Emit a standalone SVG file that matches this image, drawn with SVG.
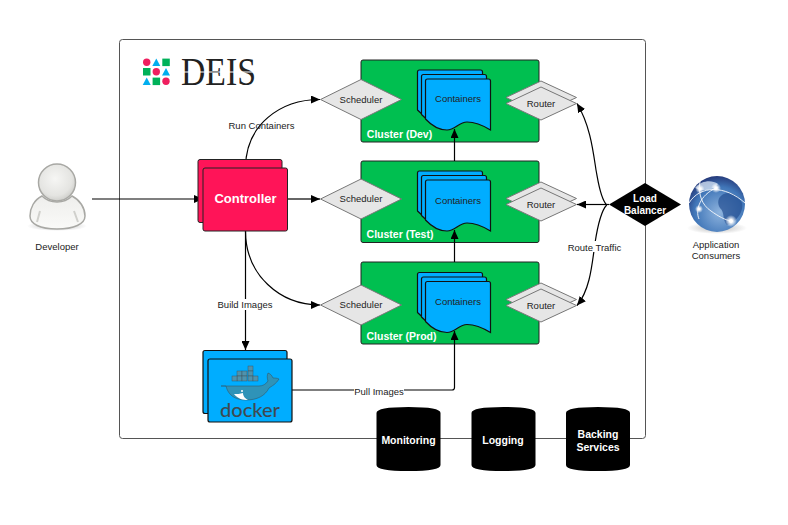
<svg xmlns="http://www.w3.org/2000/svg" width="788" height="525" viewBox="0 0 788 525">
<style>
text{font-family:"Liberation Sans",Arial,sans-serif;text-anchor:middle;fill:#222;font-size:9.5px}
.w{fill:#fff;font-weight:bold;font-size:10.5px}
.c{fill:#00bf50;stroke:#222;stroke-width:1}
.b{fill:#00adff;stroke:#111;stroke-width:1.2}
.p{fill:#ff1458;stroke:#222;stroke-width:1}
.g{fill:#e6e6e6;stroke:#777;stroke-width:1}
.l{fill:none;stroke:#000;stroke-width:1.2}
.k{fill:#000}
.dp{fill:#ef1f5f}.db{fill:#00aeef}.dg{fill:#00b159}
.box{fill:#4f93ad;stroke:#3a4d54;stroke-width:.4}
</style>
<defs>
<marker id="a" markerWidth="10" markerHeight="8" refX="9" refY="4" orient="auto" markerUnits="userSpaceOnUse"><path d="M0 0L9 4L0 8z" fill="#000"/></marker>
<path id="doc" d="M425.5 119C432 126 440 130 447 130C455 130 459 122 467 122C476 122 484 126 490.5 130V81Q490.5 79 488.5 79H427.5Q425.5 79 425.5 81Z"/>
<path id="sch" d="M320.5 0L361 -20L401.5 0L361 20Z"/>
<path id="rt" d="M506 0L541 -16.5L576.5 0L541 16.5Z"/>
<path id="cyl" d="M0 6Q0 0 32 0Q64 0 64 6V58Q64 64 32 64Q0 64 0 58Z"/>
<radialGradient id="gh" cx=".45" cy=".4" r=".65"><stop offset="0" stop-color="#f6f6f4"/><stop offset=".7" stop-color="#e4e4e1"/><stop offset="1" stop-color="#c8c8c4"/></radialGradient>
<linearGradient id="gb" x1="0" y1="0" x2="0" y2="1"><stop offset="0" stop-color="#eeeeec"/><stop offset="1" stop-color="#fafaf8"/></linearGradient>
<radialGradient id="gl" cx=".55" cy=".65" r=".7"><stop offset="0" stop-color="#8fb4de"/><stop offset=".65" stop-color="#4076b8"/><stop offset="1" stop-color="#1f2c6c"/></radialGradient>
<radialGradient id="gs" cx=".5" cy=".5" r=".5"><stop offset="0" stop-color="#888" stop-opacity=".6"/><stop offset="1" stop-color="#888" stop-opacity="0"/></radialGradient>
<radialGradient id="gg" cx=".5" cy=".5" r=".5"><stop offset=".25" stop-color="#fff"/><stop offset="1" stop-color="#fff" stop-opacity="0"/></radialGradient>
</defs>
<rect id="frame" x="119.5" y="39.5" width="526" height="399" rx="3" fill="#fff" stroke="#555" stroke-width="1"/>
<g id="logo">
<circle class="dp" cx="146.7" cy="62.3" r="3.7"/><path class="db" d="M156.3 58.5L160.3 66H152.3Z"/><rect class="dg" x="162.3" y="58.6" width="7.5" height="7.5"/>
<rect class="dg" x="143" y="68" width="7.5" height="7.5"/><circle class="dp" cx="156.3" cy="71.7" r="3.7"/><path class="db" d="M166 68L170 75.5H162Z"/>
<path class="db" d="M146.7 77.5L150.7 85H142.7Z"/><rect class="dg" x="152.6" y="77.6" width="7.5" height="7.5"/><circle class="dp" cx="166" cy="81.3" r="3.7"/>
<text x="218.500" y="85" textLength="75" lengthAdjust="spacingAndGlyphs" style="font-family:'Liberation Serif',serif;font-size:39px;fill:#222;font-weight:normal">DEIS</text>
<path d="M181 72H256" stroke="#fff" stroke-width="1"/>
</g>
<g id="cluster-dev"><rect class="c" x="361" y="60" width="178" height="82" rx="2"/><text class="w" x="399.500" y="138">Cluster (Dev)</text></g>
<g id="cluster-test"><rect class="c" x="361" y="161" width="178" height="81.500" rx="2"/><text class="w" x="400" y="238">Cluster (Test)</text></g>
<g id="cluster-prod"><rect class="c" x="361" y="262" width="178" height="82" rx="2"/><text class="w" x="401.500" y="339.500">Cluster (Prod)</text></g>
<g id="connectors">
<path class="l" d="M92 199H203" marker-end="url(#a)"/>
<path class="l" d="M288 199H320" marker-end="url(#a)"/>
<path class="l" d="M245.500 168C245.500 125 280 99.500 320 99.500" marker-end="url(#a)"/>
<path class="l" d="M245.500 231C245.500 275 280 305 320 305" marker-end="url(#a)"/>
<path class="l" d="M245.500 231V350" marker-end="url(#a)"/>
<path class="l" d="M454.500 161V129" marker-end="url(#a)"/>
<path class="l" d="M454.500 262V230" marker-end="url(#a)"/>
<path class="l" d="M292 390H452Q454.500 390 454.500 387.500V331" marker-end="url(#a)"/>
<path class="l" d="M609 204.500H577" marker-end="url(#a)" stroke-width="1.500"/>
<path class="l" d="M606.700 205C600 198 598 180 596 170C593 150 590 125 577 103.500" marker-end="url(#a)"/>
<path class="l" d="M606.700 205C600 212 597 230 595 243C592 265 590 290 577 305.500" marker-end="url(#a)"/>
</g>
<g id="label-run"><text x="261.500" y="128.500">Run Containers</text></g>
<g id="label-build"><rect x="217" y="299" width="56" height="11" fill="#fff"/><text x="245" y="307.500">Build Images</text></g>
<g id="label-pull"><rect x="354" y="386" width="50" height="11" fill="#fff"/><text x="379" y="395">Pull Images</text></g>
<g id="label-route"><rect x="566" y="241" width="56" height="11" fill="#fff"/><text x="594.500" y="250.500">Route Traffic</text></g>
<g id="scheduler-dev"><use href="#sch" y="99.500" class="g"/><text x="361" y="102.500">Scheduler</text></g>
<g id="scheduler-test"><use href="#sch" y="199" class="g"/><text x="361" y="202">Scheduler</text></g>
<g id="scheduler-prod"><use href="#sch" y="305" class="g"/><text x="361" y="307.500">Scheduler</text></g>
<g id="containers-dev"><use href="#doc" x="-8" y="-9" class="b"/><use href="#doc" x="-4" y="-4.500" class="b"/><use href="#doc" class="b"/><text x="458" y="102">Containers</text></g>
<g id="containers-test"><use href="#doc" x="-8" y="92" class="b"/><use href="#doc" x="-4" y="96.500" class="b"/><use href="#doc" y="101" class="b"/><text x="458" y="203.500">Containers</text></g>
<g id="containers-prod"><use href="#doc" x="-8" y="193.500" class="b"/><use href="#doc" x="-4" y="198" class="b"/><use href="#doc" y="202.500" class="b"/><text x="458" y="304.500">Containers</text></g>
<g id="router-dev"><use href="#rt" y="97.500" class="g"/><use href="#rt" y="103.500" class="g"/><text x="541" y="106.500">Router</text></g>
<g id="router-test"><use href="#rt" y="198.500" class="g"/><use href="#rt" y="204.500" class="g"/><text x="541" y="207.500">Router</text></g>
<g id="router-prod"><use href="#rt" y="299.500" class="g"/><use href="#rt" y="305.500" class="g"/><text x="541" y="308.500">Router</text></g>
<g id="load-balancer"><path class="k" d="M609 204.500L645 183L681 204.500L645 226Z"/><text class="w" x="645" y="201.500" style="font-size:10px">Load</text><text class="w" x="645" y="213.500" style="font-size:10px">Balancer</text></g>
<g id="controller"><rect class="p" x="198" y="159.500" width="84" height="63" rx="2"/><rect class="p" x="203" y="168" width="84.500" height="63" rx="2"/><text class="w" x="245.500" y="202.500" style="font-size:13px">Controller</text></g>
<g id="docker"><rect class="b" x="203" y="350.500" width="84" height="63" rx="2"/><rect class="b" x="208" y="359" width="84" height="63" rx="2"/>
<rect class="box" x="237" y="371" width="5" height="5"/><rect class="box" x="237" y="376" width="5" height="5"/><rect class="box" x="242" y="371" width="5" height="5"/><rect class="box" x="242" y="376" width="5" height="5"/><rect class="box" x="248" y="366" width="5" height="5"/><rect class="box" x="248" y="371" width="5" height="5"/><rect class="box" x="248" y="376" width="5" height="5"/><rect class="box" x="232" y="376" width="5" height="5"/><rect class="box" x="253" y="376" width="5" height="5"/>
<path d="M221 386H259C263 386 266 384 268 381C267 378 267 375 268 373C271 374 272 376 273 378C275 378 277 378 279 379C276 384 272 386 269 388C265 396 257 400 246 400C235 400 228 395 226 386Z" fill="#2f93b8" stroke="#3a4d54" stroke-width=".5"/>
<path d="M234 394C238 399 243 400 248 400C244 398 243 395 243 393C240 394 237 394 234 394Z" fill="#fff"/><circle cx="242" cy="391" r="1" fill="#fff"/>
<text x="250" y="417" style="font-family:'Lato',sans-serif;font-size:20px;font-weight:500;fill:#3f4a50">docker</text></g>
<g id="monitoring"><use href="#cyl" x="376.500" y="407" class="k"/><text class="w" x="408.500" y="444">Monitoring</text></g>
<g id="logging"><use href="#cyl" x="471.500" y="407" class="k"/><text class="w" x="503" y="444">Logging</text></g>
<g id="backing"><use href="#cyl" x="566" y="407" class="k"/><text class="w" x="598" y="438">Backing</text><text class="w" x="598" y="451">Services</text></g>
<g id="developer"><ellipse cx="57" cy="226" rx="30" ry="5" fill="url(#gs)"/><path d="M42 196C34 200 30 208 30 216C30 224 40 229 57 229C74 229 85 224 85 216C85 208 80 200 72 196C64 204 50 204 42 196Z" fill="url(#gb)" stroke="#a8a8a4" stroke-width="1.500"/><path d="M40 211L37 222M74 211L78 222" stroke="#d0d0cc" stroke-width="2" fill="none"/><circle cx="57" cy="182.500" r="18.500" fill="url(#gh)" stroke="#a8a8a4" stroke-width="1.500"/><text x="57" y="250">Developer</text></g>
<g id="consumers"><ellipse cx="717" cy="228" rx="30" ry="6" fill="url(#gs)"/><circle cx="717" cy="204" r="28" fill="url(#gl)"/>
<path d="M722 195C730 190 738 195 742 203C744 212 736 222 727 225C722 220 725 212 720 208C717 203 718 198 722 195Z" fill="#234f92" opacity=".7"/><path d="M695 188C702 180 712 180 718 184C714 190 704 192 695 188Z" fill="#dbe7f5" opacity=".75"/>
<path d="M689 203C700 185 725 185 745 203M700 181C698 195 702 205 711 211C718 216 725 220 731 221M716 188C700 195 695 210 699 219" fill="none" stroke="#fff" stroke-width="1" opacity=".85"/>
<circle cx="700" cy="189" r="4.500" fill="url(#gg)"/><circle cx="716" cy="188" r="5" fill="url(#gg)"/><circle cx="699" cy="209" r="4" fill="url(#gg)"/><circle cx="731" cy="221" r="6" fill="url(#gg)"/>
<text x="716" y="248">Application</text><text x="716" y="259">Consumers</text></g>
</svg>
